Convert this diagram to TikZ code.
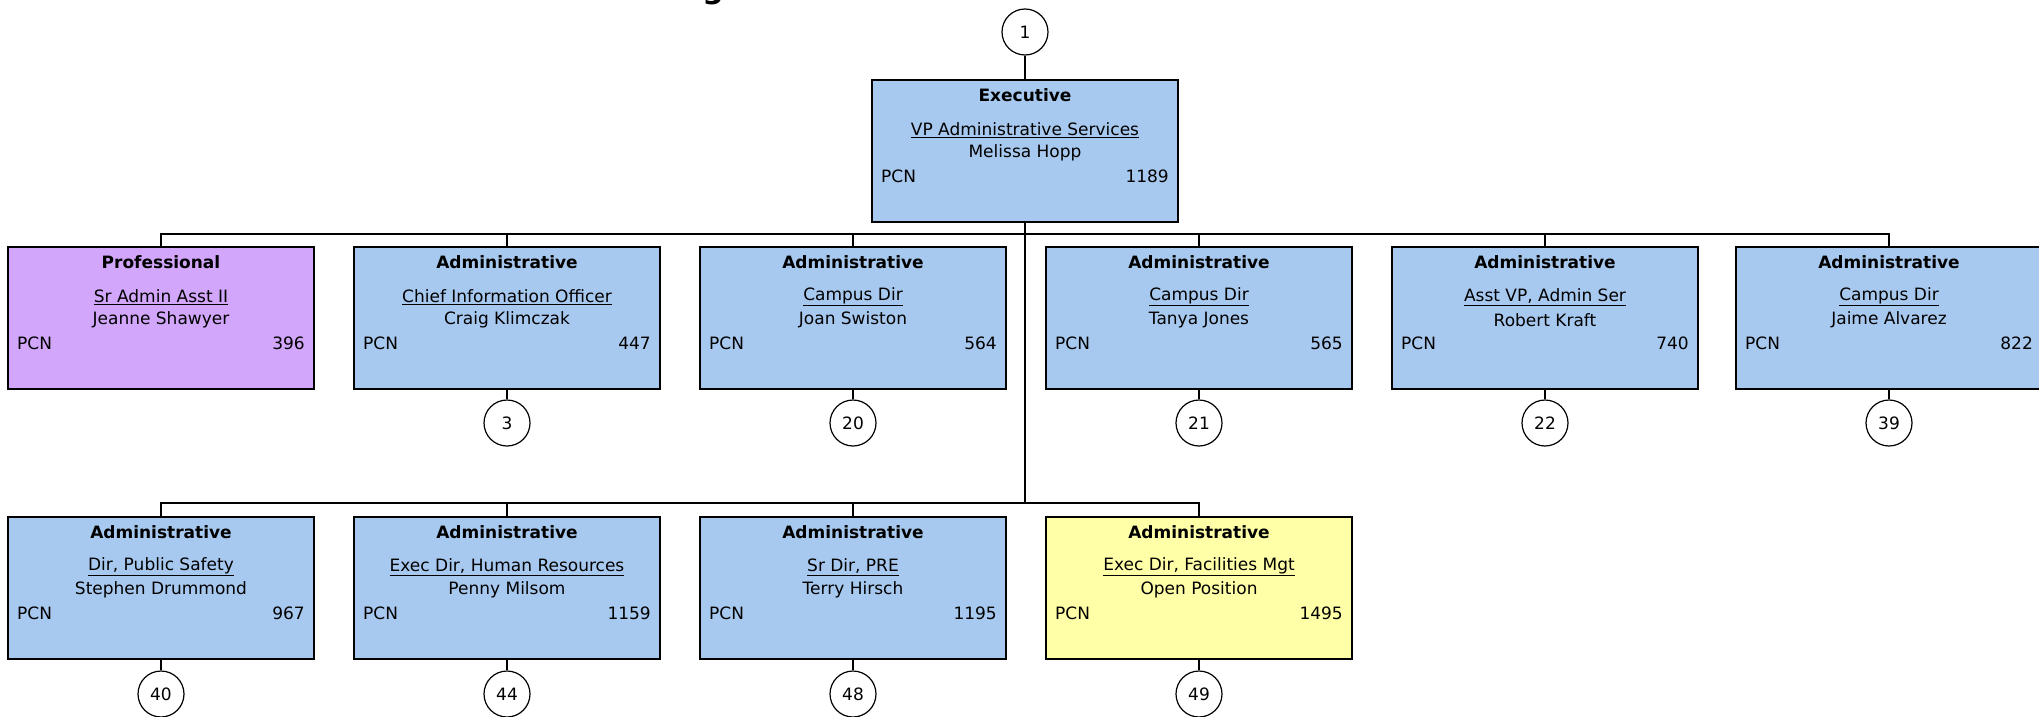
\documentclass[tikz,border=0pt]{standalone}
\usepackage{fontspec}
\setmainfont{DejaVu Sans}
\definecolor{boxblue}{HTML}{A8C9EF}
\definecolor{boxpurple}{HTML}{D2A6FA}
\definecolor{boxyellow}{HTML}{FFFFA8}
\tikzset{
  obox/.style={draw=black, line width=2pt, minimum width=306pt, minimum height=142pt, inner sep=0pt},
  txt/.style={inner sep=0pt, font=\fontsize{17}{20}\selectfont},
  cattxt/.style={txt, font=\fontsize{17}{20}\selectfont\bfseries},
  numcirc/.style={circle, draw=black, line width=1.2pt, fill=white, minimum size=46pt, inner sep=0pt, font=\fontsize{17}{20}\selectfont},
  link/.style={draw=black, line width=2pt},
}
\newcommand{\orgbox}[8]{%
  \node[obox, fill=#4, anchor=north] (#1) at (#2,#3) {};
  \node[cattxt] (#1-cat) at ([yshift=-16pt]#1.north) {#5};
  \node[txt] (#1-title) at ([yshift=-51pt]#1.north) {\underline{#6}};
  \node[txt] (#1-name) at ([yshift=-74pt]#1.north) {#7};
  \node[txt, anchor=west] (#1-pcn) at ([xshift=10pt,yshift=-97pt]#1.north west) {PCN};
  \node[txt, anchor=east] (#1-num) at ([xshift=-10pt,yshift=-97pt]#1.north east) {#8};
}
\begin{document}
\begin{tikzpicture}[x=1pt,y=-1pt]
\clip (0,0) rectangle (2039,717);
\fill[white] (0,0) rectangle (2039,717);
% fragment of the cut-off title
\node[inner sep=0pt, anchor=base, font=\fontsize{30}{36}\selectfont\bfseries] (titlefrag) at (713,-1) {g};

\coordinate (bar1) at (1025,234);
\coordinate (bar2) at (1025,503);

\node[numcirc] (c1) at (1025,32) {1};
\orgbox{exec}{1025}{79}{boxblue}{Executive}{VP Administrative Services}{Melissa Hopp}{1189}

\orgbox{r1}{161}{246}{boxpurple}{Professional}{Sr Admin Asst II}{Jeanne Shawyer}{396}
\orgbox{r2}{507}{246}{boxblue}{Administrative}{Chief Information Officer}{Craig Klimczak}{447}
\orgbox{r3}{853}{246}{boxblue}{Administrative}{Campus Dir}{Joan Swiston}{564}
\orgbox{r4}{1199}{246}{boxblue}{Administrative}{Campus Dir}{Tanya Jones}{565}
\orgbox{r5}{1545}{246}{boxblue}{Administrative}{Asst VP, Admin Ser}{Robert Kraft}{740}
\orgbox{r6}{1889}{246}{boxblue}{Administrative}{Campus Dir}{Jaime Alvarez}{822}

\orgbox{s1}{161}{516}{boxblue}{Administrative}{Dir, Public Safety}{Stephen Drummond}{967}
\orgbox{s2}{507}{516}{boxblue}{Administrative}{Exec Dir, Human Resources}{Penny Milsom}{1159}
\orgbox{s3}{853}{516}{boxblue}{Administrative}{Sr Dir, PRE}{Terry Hirsch}{1195}
\orgbox{s4}{1199}{516}{boxyellow}{Administrative}{Exec Dir, Facilities Mgt}{Open Position}{1495}

\node[numcirc] (c3) at (507,423) {3};
\node[numcirc] (c20) at (853,423) {20};
\node[numcirc] (c21) at (1199,423) {21};
\node[numcirc] (c22) at (1545,423) {22};
\node[numcirc] (c39) at (1889,423) {39};

\node[numcirc] (c40) at (161,694) {40};
\node[numcirc] (c44) at (507,694) {44};
\node[numcirc] (c48) at (853,694) {48};
\node[numcirc] (c49) at (1199,694) {49};

% connectors
\draw[link] (c1) -- (exec);
\draw[link] (exec.south) -- (bar2);
\draw[link] (r1.north) -- (r1.north |- bar1) -- (r6.north |- bar1) -- (r6.north);
\foreach \b in {r2,r3,r4,r5} \draw[link] (\b.north) -- (\b.north |- bar1);
\draw[link] (s1.north) -- (s1.north |- bar2) -- (s4.north |- bar2) -- (s4.north);
\foreach \b in {s2,s3} \draw[link] (\b.north) -- (\b.north |- bar2);
\foreach \b/\c in {r2/c3,r3/c20,r4/c21,r5/c22,r6/c39,s1/c40,s2/c44,s3/c48,s4/c49}
  \draw[link] (\b.south) -- (\c);
\end{tikzpicture}
\end{document}
